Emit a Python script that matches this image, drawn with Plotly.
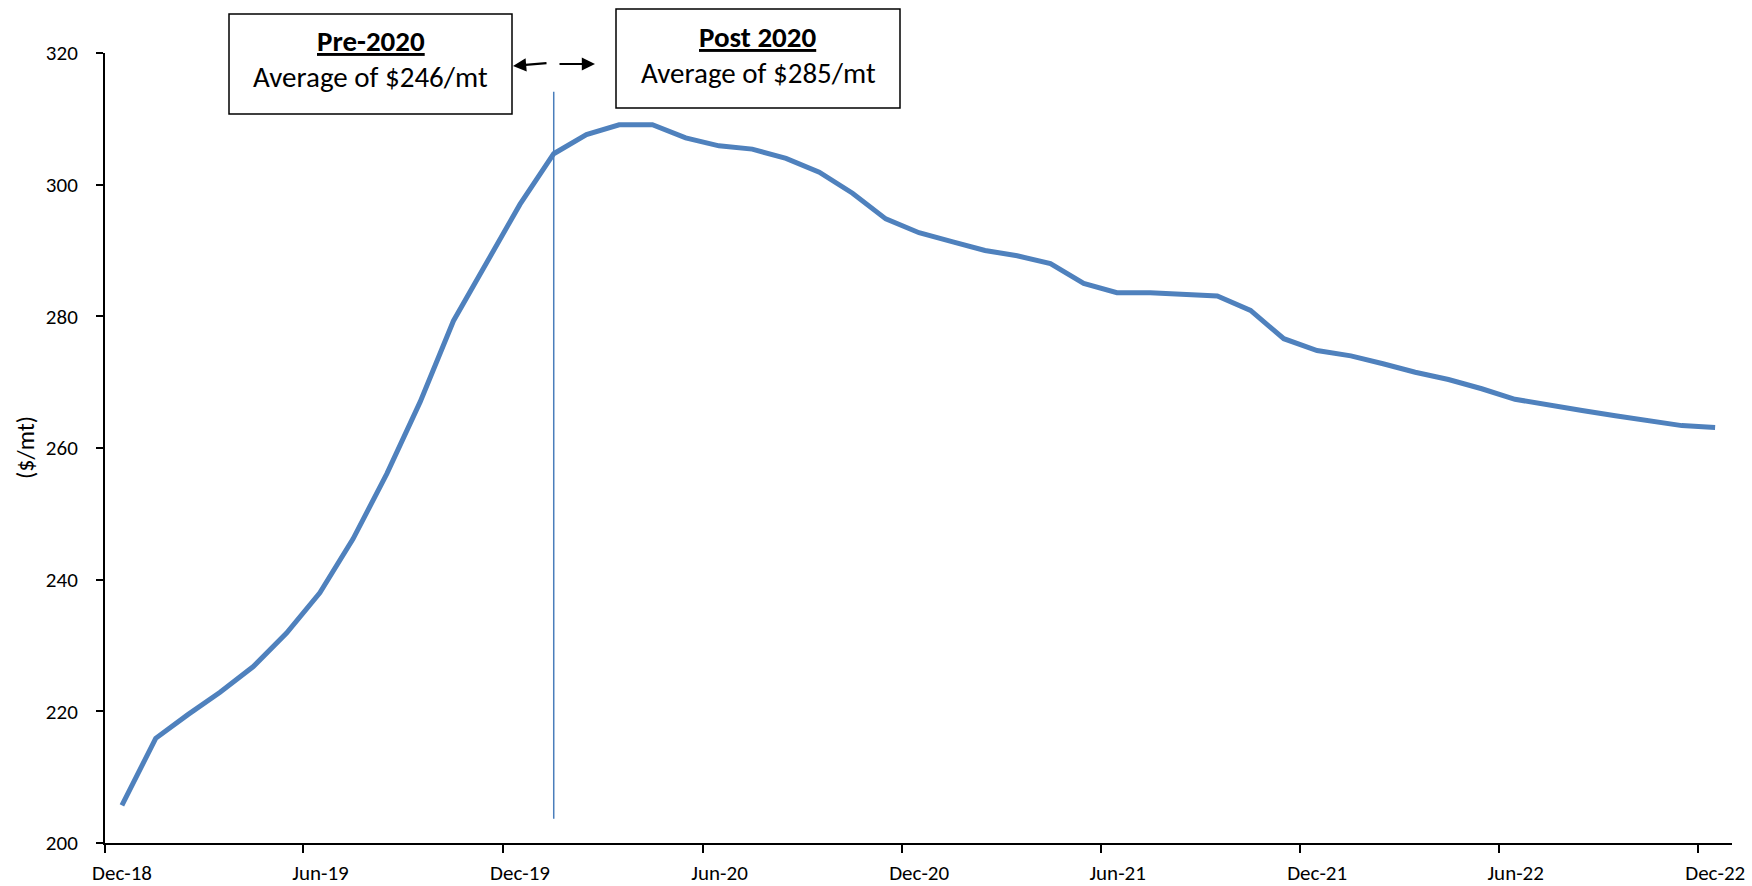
import pandas as pd
import plotly.graph_objects as go

# ---- data ----
months = pd.date_range("2018-12-01", "2022-12-01", freq="MS")
prices = [205.7, 215.9, 219.5, 222.9, 226.8, 231.9, 238.0, 246.2, 256.1, 267.0,
          279.3, 288.1, 297.0, 304.7, 307.6, 309.1, 309.1, 307.1, 305.9, 305.4,
          304.0, 301.9, 298.7, 294.8, 292.7, 291.3, 290.0, 289.2, 288.0, 285.0,
          283.6, 283.6, 283.4, 283.1, 280.9, 276.6, 274.8, 274.0, 272.8, 271.5,
          270.4, 269.0, 267.4, 266.5, 265.7, 264.9, 264.2, 263.4, 263.1]
y_title = "($/mt)"
pre_label = "Pre-2020"
pre_text = "Average of $246/mt"
post_label = "Post 2020"
post_text = "Average of $285/mt"
split_index = 13  # Jan-20 point marked by the vertical line

# ---- layout geometry (absolute page pixels) ----
W, H = 1752, 886
L, R, T, B = 105, 20, 53, 43
PW, PH = W - L - R, H - T - B
HALF_MONTH_PX = int(round(PW / 49 / 2))


def fx(x):
    return (x - L) / PW


def fy(y):
    return (H - B - y) / PH


FONT = "Calibri, Carlito, Lato, 'Open Sans', sans-serif"
LINE_BLUE = "rgb(79,129,189)"

fig = go.Figure()
fig.add_trace(go.Scatter(
    x=months, y=prices, mode="lines",
    xperiod="M1", xperiodalignment="middle",
    line=dict(color=LINE_BLUE, width=5),
    hoverinfo="skip", showlegend=False,
))

split_x = months[split_index] + (months[split_index + 1] - months[split_index]) / 2
fig.add_shape(type="line", xref="x", yref="y",
              x0=split_x, x1=split_x, y0=203.7, y1=314.1,
              line=dict(color="#4A7EBB", width=1.5), layer="above")

# boxes
for (x0, x1, y0, y1) in [(229, 512, 14, 114), (616, 900, 9, 108)]:
    fig.add_shape(type="rect", xref="paper", yref="paper",
                  x0=fx(x0), x1=fx(x1), y0=fy(y1), y1=fy(y0),
                  line=dict(color="black", width=1.5), fillcolor="white", layer="above")

annos = [
    (370.5, 41, f"<b><u>{pre_label}</u></b>"),
    (370.5, 77, pre_text),
    (758, 37, f"<b><u>{post_label}</u></b>"),
    (758, 73, post_text),
]
for x, y, t in annos:
    fig.add_annotation(xref="paper", yref="paper", x=fx(x), y=fy(y), text=t,
                       showarrow=False, xanchor="center", yanchor="middle",
                       font=dict(family=FONT, size=29, color="black"))

# arrows
fig.add_annotation(xref="paper", yref="paper", x=fx(513), y=fy(66), ax=35, ay=-3,
                   axref="pixel", ayref="pixel", text="", showarrow=True,
                   arrowhead=2, arrowsize=1.2, arrowwidth=2.2, arrowcolor="black")
fig.add_annotation(xref="paper", yref="paper", x=fx(595), y=fy(64), ax=-37, ay=0,
                   axref="pixel", ayref="pixel", text="", showarrow=True,
                   arrowhead=2, arrowsize=1.2, arrowwidth=2.2, arrowcolor="black")

# y axis title
fig.add_annotation(xref="paper", yref="paper", x=fx(25), y=fy(448), text=y_title,
                   showarrow=False, textangle=-90, xanchor="center", yanchor="middle",
                   font=dict(family=FONT, size=24, color="black"))

fig.update_layout(
    width=W, height=H,
    margin=dict(l=L, r=R, t=T, b=B, pad=0, autoexpand=False),
    paper_bgcolor="white", plot_bgcolor="white",
    font=dict(family=FONT, size=21, color="black"),
    xaxis=dict(type="date", range=["2018-12-01", "2023-01-01"],
               tick0="2018-12-01", dtick="M6", tickformat="%b-%y",
               ticks="outside", ticklen=8, tickwidth=2, tickcolor="black",
               showline=True, linecolor="black", linewidth=2, automargin=False,
               showgrid=False, zeroline=False, ticklabelstandoff=2,
               ticklabelshift=HALF_MONTH_PX),
    yaxis=dict(range=[200, 320], dtick=20, tick0=200,
               ticks="outside", ticklen=7, tickwidth=2, tickcolor="black",
               showline=True, linecolor="black", linewidth=2, automargin=False,
               showgrid=False, zeroline=False, ticklabelstandoff=14),
)

fig.write_html("out.html", config={"displayModeBar": False},
               post_script="document.body.style.margin='0px';")
